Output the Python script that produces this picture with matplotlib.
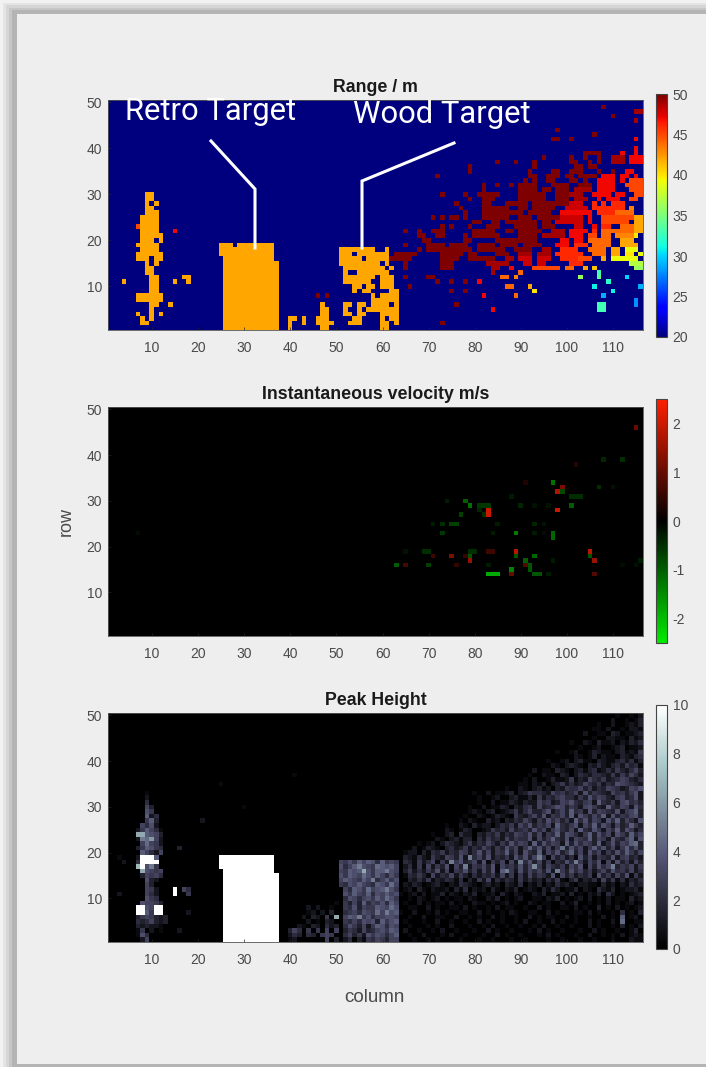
import numpy as np
import matplotlib

matplotlib.use("AGG")
import matplotlib.pyplot as plt
from matplotlib.colors import LinearSegmentedColormap
from matplotlib.patches import Rectangle

W, H = 706, 1067
plt.rcParams["font.family"] = ["Liberation Sans", "DejaVu Sans"]
plt.rcParams["axes.unicode_minus"] = False

n_cols = 116
n_rows = 50
x_ticks = [10, 20, 30, 40, 50, 60, 70, 80, 90, 100, 110]
y_ticks = [10, 20, 30, 40, 50]
titles = ["Range / m", "Instantaneous velocity m/s", "Peak Height"]
range_ticks = [20, 25, 30, 35, 40, 45, 50]
vel_ticks = [-2, -1, 0, 1, 2]
peak_ticks = [0, 2, 4, 6, 8, 10]

# range panel: row -> (first col, last col, value in m)
range_person = {
    30: [(9, 10, 42)], 29: [(9, 10, 42)], 28: [(9, 9, 42), (11, 11, 42)], 27: [(9, 10, 42)],
    26: [(9, 11, 42)], 25: [(8, 11, 42)], 24: [(8, 11, 42)], 23: [(7, 7, 45), (8, 11, 42)],
    22: [(8, 11, 42), (15, 15, 47)], 21: [(8, 12, 42)], 20: [(8, 10, 42), (12, 12, 42)],
    19: [(7, 11, 42)], 18: [(8, 11, 42)], 17: [(7, 12, 42)], 16: [(7, 9, 42), (11, 12, 42)],
    15: [(9, 9, 42), (11, 11, 42)], 14: [(9, 10, 42)], 13: [(9, 10, 42)],
    12: [(10, 11, 42), (17, 18, 42)], 11: [(4, 4, 42), (10, 11, 42), (15, 15, 42), (18, 18, 42)],
    10: [(10, 11, 42)], 9: [(10, 11, 42)], 8: [(7, 12, 42)], 7: [(7, 12, 42)],
    6: [(10, 11, 42), (14, 14, 42)], 5: [(10, 10, 42)],
    4: [(7, 7, 42), (10, 10, 42), (12, 12, 42)], 3: [(8, 8, 42), (10, 10, 42)], 2: [(8, 9, 42)],
}
range_block = {
    19: [(25, 27, 42), (29, 36, 42)], 18: [(25, 36, 42)], 17: [(25, 36, 42)], 16: [(26, 36, 42)],
}
range_block.update({r: [(26, 37, 42)] for r in range(1, 16)})
range_small = {
    8: [(46, 46, 50), (48, 48, 50)], 6: [(47, 47, 42)], 5: [(47, 48, 42)],
    4: [(47, 48, 42)], 3: [(40, 41, 42), (43, 43, 42), (46, 48, 42)],
    2: [(40, 40, 42), (43, 43, 42), (46, 49, 42)], 1: [(40, 40, 42), (47, 48, 42)],
}
range_wood = {
    18: [(51, 58, 42), (61, 61, 42)], 17: [(51, 53, 42), (55, 59, 42), (60, 61, 42)],
    16: [(51, 55, 42), (57, 60, 42), (61, 61, 42), (62, 63, 50)], 15: [(51, 59, 42), (61, 61, 42)],
    14: [(52, 60, 42), (62, 62, 42)], 13: [(52, 52, 42), (55, 61, 42)],
    12: [(52, 58, 42), (60, 62, 42)], 11: [(52, 57, 42), (60, 62, 42)],
    10: [(54, 55, 42), (57, 58, 42), (60, 62, 42)], 9: [(54, 54, 42), (56, 57, 42), (62, 63, 42)],
    8: [(58, 58, 42), (60, 63, 42)], 7: [(58, 59, 42), (60, 63, 42)],
    6: [(52, 53, 42), (55, 56, 42), (58, 61, 42), (63, 63, 42)],
    5: [(52, 52, 42), (55, 55, 42), (57, 57, 42), (58, 63, 42)],
    4: [(52, 53, 42), (55, 56, 42), (60, 63, 42)], 3: [(54, 55, 42), (60, 60, 42), (62, 63, 42)],
    2: [(53, 55, 42), (60, 61, 42), (63, 63, 42)], 1: [(60, 61, 42)],
}
range_cloud = {
    49: [(108, 108, 50)], 48: [(115, 116, 49)], 47: [(110, 110, 50)], 46: [(115, 115, 49)],
    44: [(98, 98, 50)], 43: [(106, 106, 50)], 42: [(97, 98, 50), (101, 101, 50), (115, 115, 47)],
    40: [(115, 115, 47)], 39: [(104, 107, 50), (112, 112, 47), (115, 115, 47)],
    38: [(95, 95, 50), (101, 101, 50), (104, 104, 50), (107, 107, 50), (110, 112, 49), (114, 116, 47)],
    37: [(85, 85, 50), (89, 89, 50), (93, 93, 50), (101, 102, 50), (105, 105, 50), (107, 107, 50),
         (110, 112, 49), (114, 116, 47)],
    36: [(79, 79, 50), (93, 93, 50), (102, 103, 50), (105, 106, 50)],
    35: [(79, 79, 50), (92, 92, 50), (97, 98, 50), (101, 103, 50), (107, 107, 50), (110, 110, 50), (113, 114, 47)],
    34: [(72, 72, 50), (92, 93, 50), (96, 98, 50), (100, 101, 50), (103, 106, 50), (108, 110, 47),
         (112, 113, 47), (115, 115, 47)],
    33: [(91, 91, 50), (93, 93, 50), (96, 97, 50), (101, 102, 50), (104, 104, 50), (107, 110, 47),
         (112, 112, 47), (114, 116, 45)],
    32: [(82, 82, 50), (85, 85, 50), (88, 88, 50), (90, 93, 50), (97, 100, 50), (103, 105, 50),
         (107, 110, 47), (113, 116, 45)],
    31: [(82, 82, 50), (90, 93, 50), (95, 96, 50), (98, 100, 50), (102, 105, 49), (107, 110, 47), (114, 116, 45)],
    30: [(73, 73, 50), (78, 78, 50), (81, 85, 50), (90, 95, 50), (98, 100, 50), (101, 103, 49),
         (106, 109, 47), (111, 112, 47), (115, 116, 45)],
    29: [(79, 79, 50), (82, 84, 50), (90, 92, 50), (93, 95, 50), (98, 100, 50), (102, 104, 49),
         (107, 107, 47), (109, 111, 47), (114, 115, 45)],
    28: [(76, 76, 50), (82, 83, 50), (87, 89, 50), (90, 91, 50), (93, 95, 50), (96, 100, 50),
         (101, 103, 48), (106, 106, 46), (108, 108, 46), (110, 112, 46)],
    27: [(77, 77, 50), (82, 84, 50), (85, 87, 50), (90, 91, 50), (93, 97, 50), (100, 104, 48),
         (106, 112, 46), (114, 114, 43)],
    26: [(78, 78, 50), (82, 84, 50), (85, 90, 50), (92, 96, 50), (99, 105, 47), (107, 110, 46), (111, 114, 44)],
    25: [(71, 71, 50), (73, 73, 50), (75, 76, 50), (78, 78, 50), (82, 87, 50), (90, 92, 50), (94, 98, 50),
         (99, 103, 48), (105, 105, 47), (108, 114, 45), (115, 116, 42)],
    24: [(80, 81, 50), (84, 85, 50), (87, 93, 50), (95, 96, 50), (98, 103, 48), (105, 105, 47),
         (108, 113, 45), (115, 116, 42)],
    23: [(73, 73, 50), (75, 75, 50), (79, 79, 50), (83, 85, 50), (89, 93, 50), (95, 97, 50),
         (102, 103, 48), (106, 106, 47), (108, 109, 46), (112, 114, 44), (115, 116, 42)],
    22: [(65, 65, 50), (68, 68, 50), (71, 73, 50), (80, 84, 50), (87, 88, 50), (90, 94, 50), (97, 99, 49),
         (101, 104, 47), (106, 106, 46), (108, 114, 44), (115, 116, 42)],
    21: [(68, 69, 50), (72, 73, 50), (78, 78, 50), (80, 82, 50), (83, 85, 50), (90, 93, 50), (95, 99, 49),
         (101, 103, 47), (105, 106, 45), (108, 109, 44), (111, 114, 43), (115, 115, 40)],
    20: [(69, 70, 50), (78, 79, 50), (85, 93, 50), (99, 100, 47), (102, 103, 47), (105, 109, 44),
         (112, 114, 42)],
    19: [(65, 65, 50), (70, 73, 50), (75, 78, 50), (81, 84, 50), (86, 89, 50), (91, 94, 50), (98, 100, 47),
         (102, 104, 46), (106, 109, 44), (112, 112, 42), (113, 115, 42)],
    18: [(68, 68, 50), (70, 79, 50), (81, 86, 50), (89, 92, 50), (95, 96, 49), (99, 102, 46), (105, 108, 44),
         (110, 111, 42), (113, 115, 39)],
    17: [(63, 67, 50), (73, 77, 50), (79, 80, 50), (85, 87, 50), (90, 92, 49), (94, 96, 49), (98, 103, 46),
         (106, 108, 44), (110, 111, 42), (113, 114, 40), (116, 116, 39)],
    16: [(64, 66, 50), (73, 76, 50), (79, 84, 50), (87, 88, 49), (90, 92, 48), (94, 96, 48), (99, 102, 46),
         (103, 105, 45), (108, 108, 42), (110, 115, 39)],
    15: [(65, 65, 50), (73, 75, 50), (83, 87, 49), (91, 92, 48), (94, 95, 48), (101, 103, 46), (114, 116, 37)],
    14: [(65, 65, 50), (73, 75, 50), (84, 85, 49), (88, 88, 47), (93, 98, 45), (100, 101, 44), (104, 104, 42),
         (106, 106, 41), (115, 116, 36)],
    13: [(84, 84, 49), (90, 90, 44), (107, 107, 33)],
    12: [(65, 65, 50), (70, 71, 50), (86, 87, 44), (89, 89, 43), (103, 103, 36), (107, 107, 34), (113, 113, 30)],
    11: [(72, 72, 50), (75, 75, 50), (78, 78, 50), (81, 81, 47), (109, 109, 32)],
    10: [(66, 66, 50), (87, 88, 44), (92, 92, 42), (106, 106, 31), (116, 116, 29)],
    9: [(75, 75, 50), (78, 78, 50), (93, 93, 40), (110, 110, 31)],
    8: [(82, 82, 47), (89, 89, 44), (108, 108, 29)],
    7: [(115, 115, 28)], 6: [(76, 76, 50), (115, 115, 28), (107, 108, 33)],
    5: [(84, 84, 47), (107, 108, 33)], 2: [(73, 73, 50)],
}

# velocity panel: sparse cells (col, row, m/s)
vel_cols = [115, 108, 112, 102, 97, 91, 99, 98, 99, 107, 110, 101, 102, 103, 88, 74, 78, 79, 81, 82, 83,
            83, 83, 82, 81, 77, 90, 93, 96, 98, 101, 71, 73, 75, 76, 85, 93, 95, 73, 84, 89, 93, 97, 97, 95,
            65, 69, 70, 71, 75, 78, 79, 79, 80, 79, 83, 84, 89, 89, 91, 93, 92, 92, 91, 105, 105, 106, 106,
            88, 88, 83, 84, 85, 93, 94, 96, 63, 65, 70, 76, 83, 97, 116, 115, 112, 7]
vel_rows = [46, 39, 39, 38, 34, 34, 33, 32, 32, 33, 33, 31, 31, 31, 31, 30, 30, 29, 29, 29, 29,
            28, 27, 27, 28, 27, 29, 29, 29, 28, 29, 25, 25, 25, 25, 25, 25, 25, 23, 23, 23, 23, 23, 22, 23,
            19, 19, 19, 18, 18, 18, 18, 19, 19, 17, 19, 19, 19, 18, 17, 18, 16, 15, 16, 19, 18, 17, 14,
            15, 14, 14, 14, 14, 14, 14, 14, 16, 16, 16, 16, 16, 17, 17, 16, 16, 23]
vel_vals = [1.0, -0.4, -0.5, 0.4, -1.2, 0.3, 1.2, 1.7, -0.8, -0.5, -0.2, -0.5, -0.5, -0.5, -0.3, -0.3, -1.0,
            -1.2, -0.6, -0.6, -0.6, 2.0, 2.0, -0.5, -0.4, -0.7, -0.4, -0.2, -0.2, 2.0, -1.0, -0.3, -0.5, -0.7,
            -0.7, -0.3, -0.4, -0.2, -0.6, -0.3, -1.3, -0.3, -1.1, -1.1, -0.15, -0.2, -0.5, -0.5, 0.6, 1.2, 0.5,
            -0.9, -0.5, -0.5, 1.5, 0.6, 0.6, 1.8, -0.9, -1.0, -1.1, -0.9, -0.9, 0.8, 1.8, -0.9, 1.5, 0.8, -1.4,
            1.0, -1.8, -1.8, -1.8, -0.9, -0.9, -0.3, -1.0, 0.7, -0.7, 0.5, -0.3, -0.3, -0.3, -0.2, -0.15, -0.15]

# peak panel: one base-36 digit per cell, value = digit / 2, 'k' is 10
# left strings start at col 6, wood strings at col 51, right strings end at col 116
peak_left = {
    33: "00010000", 32: "00020000", 31: "00040000", 30: "00063000", 29: "00075000", 28: "00082400",
    27: "00058300", 26: "00647200", 25: "02586410", 24: "0dd87630", 23: "02a9c620", 22: "00696520",
    21: "03587540", 20: "00864260", 19: "02kkk800", 18: "04kkkk00", 17: "0ek7a500", 16: "00d76560",
    15: "00365640", 14: "00073200", 13: "00063000", 12: "00065200", 11: "00064200", 10: "00075400",
    9: "00766530", 8: "0kk76kk0", 7: "0kk85kk0", 6: "03565320", 5: "04346320", 4: "03232210",
    3: "01502010", 2: "01740000", 1: "00260000",
}
peak_bits = {
    (15, 12): "k", (15, 11): "k", (17, 12): "6", (18, 12): "4", (18, 11): "5", (3, 11): "2",
    (3, 19): "1", (4, 18): "2", (16, 21): "3", (21, 27): "2", (25, 35): "1", (41, 37): "1",
    (30, 30): "1", (31, 6): "1", (13, 5): "3", (13, 6): "3", (16, 3): "2", (18, 7): "2",
}
peak_low = {
    9: "00000000000100000", 8: "00000202001000000", 7: "00000120203000000", 6: "00002032050d00000",
    5: "00000201032040000", 4: "00021032042302000", 3: "03640505060600020", 2: "02430430565020300",
    1: "01200000060300000",
}
peak_wood = {
    18: "6575868748565", 17: "7468a76598786", 16: "65878d7588a76", 15: "7587697586475",
    14: "6876586a46857", 13: "5476865487596", 12: "0648759678a75", 11: "0758658476867",
    10: "0476467586975", 9: "0536384657486", 8: "0547365587697", 7: "0456476596a78",
    6: "0687a57466776", 5: "0546476738578", 4: "0475362587476", 3: "0354263467587",
    2: "0463527576468", 1: "0240315465366",
}
peak_right = {
    50: "00100102", 49: "2001013", 48: "1002001213", 47: "011020010221", 46: "2001103201123",
    45: "0010022110312", 44: "01002103112021324", 43: "10012001230112", 42: "1001200132110231215",
    41: "00210130211032134", 40: "100120231103211342413", 39: "0021023210324213425341",
    38: "201103210231341242532463", 37: "1002110320243244325253642",
    36: "10200131125132643523465324", 35: "0110213023524236435243765432",
    34: "100210231203254463524365423657", 33: "01002011230235443264534627354326453572",
    32: "100120023113152435644253746532563472", 31: "0100201132132264523657435628435267453",
    30: "10020113203245263457635426753284365274", 29: "0012102301235246335724638452736543725683",
    28: "100210132105324637254638275364827354673", 27: "01021003120324364253746352847365274836427",
    26: "1002103122024352647354628435726483752634853", 25: "02101320012534263453746257436284375264837524",
    24: "1002304220324352436547362548376425837462753846", 23: "0210231330425342635447263584372654836527436827",
    22: "1012024321352436425374652837465283746538247365893",
    21: "20132103423524364253746258473625937462584736258473",
    20: "1220314352436524736254836274382647358362746253748536",
    19: "32142153265372a46372435274736a5163524173625437256342",
    18: "4315246152a57346271536162a47362514374a52647162735263",
    17: "2415162537163a25463716453736b5264352647163746a354625",
    16: "3524253726154735263718a5273646372a537463524637453624",
    15: "1435316243625314243526251526354271635243517352637152",
    14: "0324251324314031526142431524231425103513241625141324",
    13: "02132012310214321023120321402130214231022110312021423",
    12: "01203102112031402120310213012103142011302104213012231",
    11: "10120201130210213011203102100213011203010213042010123",
    10: "00102101201011021002130101200110213010120201020110312",
    9: "01002010110201002110101201002101100201300101020101201",
    8: "00110020100110201001020110010020100110201003010201012",
    7: "10020010201001100201001021001100201000110201001040103",
    6: "00100200110020010100201001002010110020100100201080120",
    5: "01000100200100100201001001020010020100100201002090011",
    4: "00100010100200010010200100100102001001000201001030102",
    3: "02001001020010001002010010001020100100010020100100130",
    2: "00100200010200100010020100100010201000100200101020121",
    1: "00010010100001000100100010010000100100010010001000211",
}

# pixel boxes of the three heatmaps and colour bars: left, top, right, bottom
map_boxes = [(108.2, 100, 643, 330), (108.2, 407, 643, 636), (108.2, 713, 643, 942)]
bar_boxes = [(656, 94, 667, 337), (656, 399, 667, 643), (656, 705, 667, 949)]


def px_axes(fig, box, **kw):
    left, top, right, bottom = box
    return fig.add_axes([left / W, 1 - bottom / H, (right - left) / W, (bottom - top) / H], **kw)


def fill_runs(grid, *tables):
    for table in tables:
        for row, runs in table.items():
            for first, last, val in runs:
                grid[row - 1, first - 1:last] = val


def digit_row(grid, row, first, digits):
    for i, ch in enumerate(digits):
        c = first + i
        if 1 <= c <= n_cols:
            grid[row - 1, c - 1] = int(ch, 36) / 2


range_map = np.full((n_rows, n_cols), 20.0)
fill_runs(range_map, range_person, range_block, range_small, range_wood, range_cloud)

vel_map = np.zeros((n_rows, n_cols))
vel_map[np.array(vel_rows) - 1, np.array(vel_cols) - 1] = vel_vals

peak_map = np.zeros((n_rows, n_cols))
for row, digits in peak_right.items():
    digit_row(peak_map, row, n_cols - len(digits) + 1, digits)
for row, digits in peak_low.items():
    digit_row(peak_map, row, 39, digits)
for row, digits in peak_wood.items():
    digit_row(peak_map, row, 51, digits)
for row, digits in peak_left.items():
    digit_row(peak_map, row, 6, digits)
for (col, row), ch in peak_bits.items():
    digit_row(peak_map, row, col, ch)
fill = np.zeros((n_rows, n_cols), dtype=bool)
fill[16:19, 24:36] = True
fill[15, 25:36] = True
fill[:15, 25:37] = True
peak_map[fill] = 10

green_red = LinearSegmentedColormap.from_list("gr", [(0, 0.92, 0), (0, 0, 0), (1, 0.12, 0)], N=256)

fig = plt.figure(figsize=(W / 100, H / 100), dpi=100, facecolor="#eeeeee")

# window shadow around the slide
bg = fig.add_axes([0, 0, 1, 1], zorder=0)
bg.set_xlim(0, W)
bg.set_ylim(H, 0)
bg.axis("off")
for inset, shade in [(0, "#f2f2f2"), (3, "#e4e4e4"), (6, "#d6d6d6"), (9, "#c6c6c6"), (12, "#b4b4b4")]:
    bg.add_patch(Rectangle((inset, inset * 0.85), W, H, fc=shade, ec="none"))
bg.add_patch(Rectangle((17, 14), W, 1050, fc="#eeeeee", ec="none"))
bg.add_patch(Rectangle((17, 1064), W, 3, fc="#b4b4b4", ec="none"))

maps = [range_map, vel_map, peak_map]
cmaps = ["jet", green_red, "bone"]
limits = [(20, 50), (-2.5, 2.5), (0, 10)]
bar_ticks = [range_ticks, vel_ticks, peak_ticks]

for i in range(3):
    ax = px_axes(fig, map_boxes[i], zorder=2)
    im = ax.imshow(maps[i], origin="lower", aspect="auto", cmap=cmaps[i], vmin=limits[i][0], vmax=limits[i][1],
                   extent=(0.5, n_cols + 0.5, 0.5, n_rows + 0.5), interpolation="nearest")
    ax.set_xticks(x_ticks)
    ax.set_yticks(y_ticks)
    ax.tick_params(direction="in", length=2.5, width=0.5, color="#262626", labelcolor="#4a4a4a", labelsize=10)
    ax.tick_params(axis="x", pad=8)
    ax.tick_params(axis="y", pad=4.5)
    for s in ax.spines.values():
        s.set_linewidth(0.6)
        s.set_color("#555555")
    ax.set_title(titles[i], fontsize=12.8, fontweight="bold", color="#1a1a1a", pad=6)

    cax = px_axes(fig, bar_boxes[i], zorder=2)
    cb = fig.colorbar(im, cax=cax, ticks=bar_ticks[i])
    cb.ax.tick_params(length=0, labelcolor="#4a4a4a", labelsize=10, pad=4)
    cb.outline.set_linewidth(0.8)
    cb.outline.set_edgecolor("#444444")

# labels and slide annotations live in pixel coordinates
top = fig.add_axes([0, 0, 1, 1], zorder=5)
top.set_xlim(0, W)
top.set_ylim(H, 0)
top.axis("off")
top.text(66, 522, "row", rotation=90, ha="center", va="center", fontsize=13, color="#4a4a4a")
top.text(374, 997, "column", ha="center", va="center", fontsize=13.5, color="#4a4a4a")
top.text(210.5, 120, "Retro Target", ha="center", va="baseline", fontsize=22.3, color="white",
         family="Roboto")
top.text(441.5, 123, "Wood Target", ha="center", va="baseline", fontsize=22.3, color="white",
         family="Roboto")
top.plot([211, 255, 255], [141, 189, 248], color="white", lw=2.2, solid_joinstyle="miter")
top.plot([454, 362, 362], [143, 181, 248], color="white", lw=2.2, solid_joinstyle="miter")

fig.savefig("out.png", dpi=100, facecolor=fig.get_facecolor())
